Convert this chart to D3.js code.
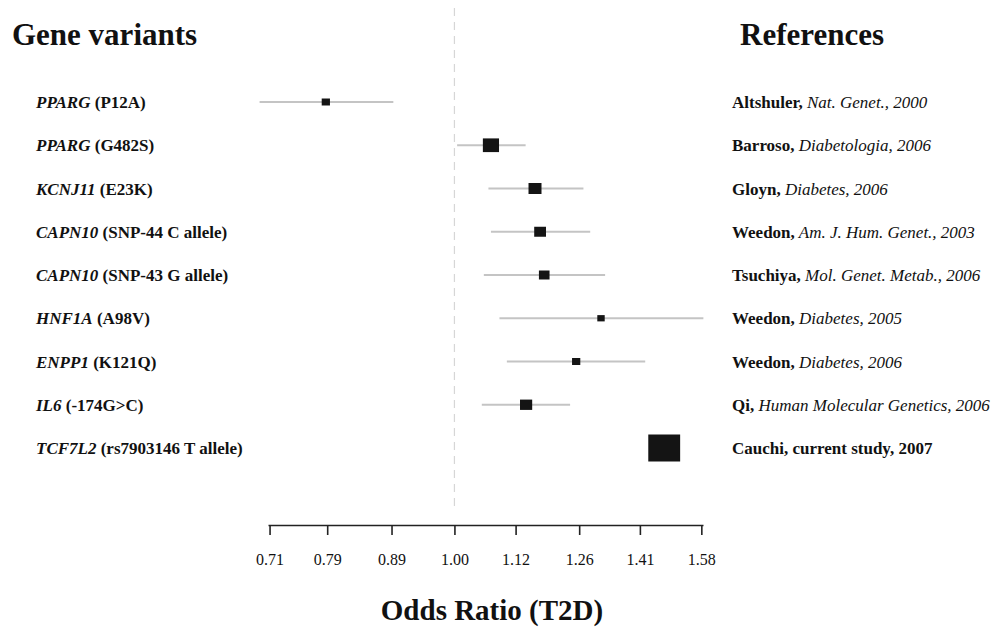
<!DOCTYPE html>
<html>
<head>
<meta charset="utf-8">
<script src="https://cdn.jsdelivr.net/npm/d3@7"></script>
<style>
  body { margin: 0; background: #fff; }
  svg text { font-family: "Liberation Serif", "Times New Roman", serif; fill: #111; }
</style>
</head>
<body>
<div id="chart"></div>
<script>
var width = 992;
var height = 627;

// data
var genes = ["PPARG", "PPARG", "KCNJ11", "CAPN10", "CAPN10", "HNF1A", "ENPP1", "IL6", "TCF7L2"];
var variants = ["(P12A)", "(G482S)", "(E23K)", "(SNP-44 C allele)", "(SNP-43 G allele)",
                "(A98V)", "(K121Q)", "(-174G>C)", "(rs7903146 T allele)"];
var oddsRatio = [0.788, 1.070, 1.161, 1.172, 1.181, 1.312, 1.253, 1.142, 1.475];
var ciLow     = [0.697, 1.005, 1.065, 1.070, 1.056, 1.087, 1.102, 1.052, null];
var ciHigh    = [0.893, 1.141, 1.270, 1.286, 1.322, 1.586, 1.424, 1.239, null];
var weights   = [6.7, 25.7, 16.6, 13.7, 11.1, 5.4, 6.7, 14.6, 100];
var refAuthors = ["Altshuler,", "Barroso,", "Gloyn,", "Weedon,", "Tsuchiya,", "Weedon,", "Weedon,", "Qi,", "Cauchi,"];
var refSources = ["Nat. Genet., 2000", "Diabetologia, 2006", "Diabetes, 2006", "Am. J. Hum. Genet., 2003",
                  "Mol. Genet. Metab., 2006", "Diabetes, 2005", "Diabetes, 2006",
                  "Human Molecular Genetics, 2006", "current study, 2007"];
var refItalic = [true, true, true, true, true, true, true, true, false];
var tickValues = [0.71, 0.79, 0.89, 1.00, 1.12, 1.26, 1.41, 1.58];

var rows = genes.map(function(g, i) {
    return { i: i, gene: g, variant: variants[i], or: oddsRatio[i], lo: ciLow[i], hi: ciHigh[i],
             w: weights[i], author: refAuthors[i], source: refSources[i], italic: refItalic[i] };
});

var svg = d3.select("#chart")
    .append("svg")
    .attr("width", width)
    .attr("height", height);

var xScale = d3.scaleLog().domain([Math.pow(10, -0.15), Math.pow(10, 0.2)]).range([268, 703]);
var yScale = d3.scalePoint().domain(d3.range(rows.length)).range([102, 448]);
var boxScale = d3.scaleSqrt().domain([0, 100]).range([0, 27]);

// null line at OR = 1
svg.append("line")
    .attr("x1", xScale(1)).attr("x2", xScale(1))
    .attr("y1", 8).attr("y2", 512)
    .attr("stroke", "#d6d6d6")
    .attr("stroke-width", 1.2)
    .attr("stroke-dasharray", "8,6");

// confidence intervals
svg.selectAll("line.ci")
    .data(rows.filter(function(d) { return d.lo != null; }))
    .enter()
    .append("line")
    .attr("class", "ci")
    .attr("x1", function(d) { return xScale(d.lo); })
    .attr("x2", function(d) { return xScale(d.hi); })
    .attr("y1", function(d) { return yScale(d.i); })
    .attr("y2", function(d) { return yScale(d.i); })
    .attr("stroke", "#c4c4c4")
    .attr("stroke-width", 1.8);

// boxes
svg.selectAll("rect.box")
    .data(rows)
    .enter()
    .append("rect")
    .attr("class", "box")
    .attr("x", function(d) { return xScale(d.or) - boxScale(d.w) * 0.59; })
    .attr("y", function(d) { return yScale(d.i) - boxScale(d.w) / 2; })
    .attr("width", function(d) { return boxScale(d.w) * 1.18; })
    .attr("height", function(d) { return boxScale(d.w); })
    .attr("fill", "#141414");

// x axis
var xAxis = d3.axisBottom(xScale)
    .tickValues(tickValues)
    .tickFormat(d3.format(".2f"))
    .tickSize(10)
    .tickSizeOuter(0);

var axisG = svg.append("g")
    .attr("transform", "translate(0,525)")
    .call(xAxis);
axisG.select(".domain").attr("stroke", "#222").attr("stroke-width", 1.6);
axisG.selectAll(".tick line").attr("stroke", "#222").attr("stroke-width", 1.6);
axisG.selectAll(".tick text")
    .attr("y", 29)
    .attr("dy", "0.71em")
    .style("font-family", "'Liberation Serif', serif")
    .style("font-size", "16px")
    .attr("fill", "#111");

// headers
svg.append("text")
    .attr("x", 12).attr("y", 45)
    .style("font-size", "31px").style("font-weight", "bold")
    .text("Gene variants");

svg.append("text")
    .attr("x", 740).attr("y", 45)
    .style("font-size", "31px").style("font-weight", "bold")
    .text("References");

svg.append("text")
    .attr("x", 492).attr("y", 620)
    .attr("text-anchor", "middle")
    .style("font-size", "29px").style("font-weight", "bold")
    .text("Odds Ratio (T2D)");

// gene labels
var geneText = svg.selectAll("text.gene")
    .data(rows)
    .enter()
    .append("text")
    .attr("class", "gene")
    .attr("x", 36)
    .attr("y", function(d) { return yScale(d.i) + 6; })
    .style("font-size", "17px")
    .style("font-weight", "bold");
geneText.append("tspan")
    .style("font-style", "italic")
    .text(function(d) { return d.gene; });
geneText.append("tspan")
    .text(function(d) { return " " + d.variant; });

// references
var refText = svg.selectAll("text.ref")
    .data(rows)
    .enter()
    .append("text")
    .attr("class", "ref")
    .attr("x", 732)
    .attr("y", function(d) { return yScale(d.i) + 6; })
    .style("font-size", "17px");
refText.append("tspan")
    .style("font-weight", "bold")
    .text(function(d) { return d.author; });
refText.append("tspan")
    .style("font-style", function(d) { return d.italic ? "italic" : "normal"; })
    .style("font-weight", function(d) { return d.italic ? "normal" : "bold"; })
    .text(function(d) { return " " + d.source; });
</script>
</body>
</html>
